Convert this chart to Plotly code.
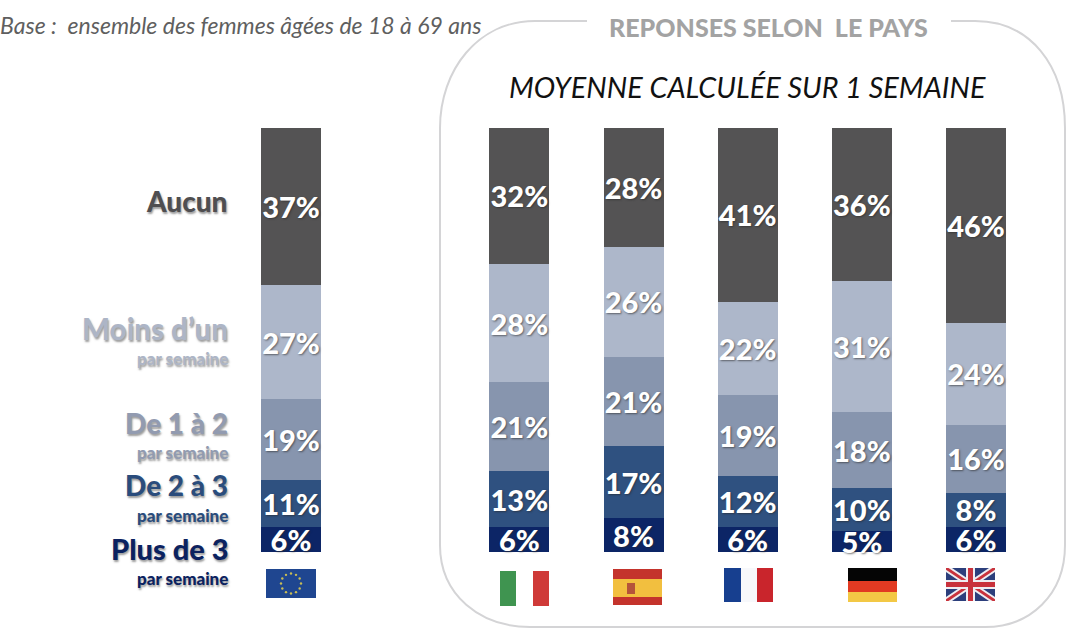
import math
import plotly.graph_objects as go

W, H = 1080, 639
FONT = "Lato"

categories = ["UE", " ", "Italie", "Espagne", "France", "Allemagne", "Royaume-Uni"]
plus_de_3 = [6, None, 6, 8, 6, 5, 6]
de_2_a_3 = [11, None, 13, 17, 12, 10, 8]
de_1_a_2 = [19, None, 21, 21, 19, 18, 16]
moins_dun = [27, None, 28, 26, 22, 31, 24]
aucun = [37, None, 32, 28, 41, 36, 46]

series_names = ["Plus de 3", "De 2 à 3", "De 1 à 2", "Moins d’un", "Aucun"]
series_values = [plus_de_3, de_2_a_3, de_1_a_2, moins_dun, aucun]
series_colors = ["#0c2566", "#2f5180", "#8795ae", "#adb7ca", "#545354"]

base_text = "Base :  ensemble des femmes âgées de 18 à 69 ans"
panel_title = "REPONSES SELON  LE PAYS"
panel_subtitle = "MOYENNE CALCULÉE SUR 1 SEMAINE"
sub_label = "par semaine"


def X(px):
    return px / W


def Y(py):
    return 1 - py / H


def path(points, close=True):
    s = "M " + " L ".join(f"{X(x):.5f},{Y(y):.5f}" for x, y in points)
    return s + (" Z" if close else "")


shapes = []


def rect(x0, y0, x1, y1, color):
    shapes.append(dict(type="rect", xref="paper", yref="paper", x0=X(x0), x1=X(x1),
                       y0=Y(y1), y1=Y(y0), fillcolor=color, line_width=0, layer="above"))


def poly(points, color):
    shapes.append(dict(type="path", xref="paper", yref="paper", path=path(points),
                       fillcolor=color, line_width=0, layer="above"))


# rounded panel, open at the top around its title
def c(*pts):
    return " ".join(f"{X(x):.5f},{Y(y):.5f}" for x, y in pts)


panel = (
    f"M {c((587, 21))} L {c((535, 21))} C {c((478, 21), (440, 70), (440, 128))} "
    f"L {c((440, 545))} C {c((440, 595), (480, 627), (530, 627))} "
    f"L {c((985, 627))} C {c((1030, 627), (1065, 595), (1065, 545))} "
    f"L {c((1065, 128))} C {c((1065, 65), (1030, 21), (975, 21))} L {c((951, 21))}"
)
shapes.append(dict(type="path", xref="paper", yref="paper", path=panel,
                   line=dict(color="#d4d4d6", width=2), layer="below"))

# EU flag
rect(266, 569, 316, 598, "#1f4690")
for i in range(12):
    a = i * math.pi / 6
    cx, cy = 291 + 10 * math.cos(a), 583.5 + 10 * math.sin(a)
    shapes.append(dict(type="circle", xref="paper", yref="paper", x0=X(cx - 1.2), x1=X(cx + 1.2),
                       y0=Y(cy + 1.2), y1=Y(cy - 1.2), fillcolor="#c9bd55", line_width=0, layer="above"))
# Italy
rect(500, 571, 516, 606, "#3f9450")
rect(533, 571, 549, 606, "#cf3a38")
# Spain
rect(613, 569, 662, 605, "#c4332c")
rect(613, 579, 662, 597, "#f2bf3f")
rect(627, 583, 635, 594, "#b5533a")
# France
rect(724, 568, 741, 602, "#173f8f")
rect(741, 568, 757, 602, "#f7f8fb")
rect(757, 568, 773, 602, "#c9252c")
# Germany
rect(848, 568, 897, 581, "#050505")
rect(848, 581, 897, 592, "#e23a22")
rect(848, 592, 897, 602, "#f3c845")
# United Kingdom
ux0, ux1, uy0, uy1 = 946, 995, 568, 601
rect(ux0, uy0, ux1, uy1, "#2c3f7c")
for d, col in ((6, "#eeeef2"), (2.5, "#c8323c")):
    e = d * (uy1 - uy0) / (ux1 - ux0)
    poly([(ux0, uy0), (ux0 + d, uy0), (ux1, uy1 - e), (ux1, uy1), (ux1 - d, uy1), (ux0, uy0 + e)], col)
    poly([(ux1, uy0), (ux1 - d, uy0), (ux0, uy1 - e), (ux0, uy1), (ux0 + d, uy1), (ux1, uy0 + e)], col)
rect(966, uy0, 975, uy1, "#eeeef2")
rect(ux0, 580, ux1, 589, "#eeeef2")
rect(968, uy0, 973, uy1, "#c8323c")
rect(ux0, 582, ux1, 587, "#c8323c")

fig = go.Figure()
for name, values, color in zip(series_names, series_values, series_colors):
    fig.add_trace(go.Bar(
        x=categories, y=values, name=name, marker=dict(color=color, line_width=0),
        text=[f"{v}%" if v is not None else "" for v in values],
        textposition="inside", insidetextanchor="middle", constraintext="none",
        textangle=0, cliponaxis=False,
        textfont=dict(family=FONT, size=29, color="white", weight=900,
                      shadow="1px 1px 2px rgba(40,40,40,0.6)"),
    ))

annotations = []


def label(text, px, py, size, color, anchor="right", bold=True, italic=False, shadow=True):
    annotations.append(dict(
        text=text, xref="paper", yref="paper", x=X(px), y=Y(py), xanchor=anchor, yanchor="middle",
        showarrow=False,
        font=dict(family=FONT, size=size, color=color, weight=900 if bold else 400,
                  style="italic" if italic else "normal",
                  shadow="1px 2px 2px rgba(90,90,90,0.6)" if shadow else "none"),
    ))


label_rows = [
    ("Aucun", 201, None, "#4f4e50", 28),
    ("Moins d’un", 328, 358, "#adb5c6", 29.5),
    ("De 1 à 2", 423, 452, "#929bb0", 28),
    ("De 2 à 3", 485, 515, "#2a4c7c", 28),
    ("Plus de 3", 548, 578, "#0b2260", 29),
]
for text, y1, y2, col, size in label_rows:
    label(text, 230, y1, size, col)
    if y2:
        label(sub_label, 230, y2, 17, col)

label(base_text, -2, 25, 23, "#5f5f5f", anchor="left", bold=False, italic=True, shadow=False)
label(panel_title, 768, 27, 25, "#a3a3a3", anchor="center", shadow=False)
label(panel_subtitle, 747, 87, 28.8, "#111111", anchor="center", bold=False, italic=True, shadow=False)

# px = 291 + 114.17 * slot ; value 0 at py 552, value 100 at py 128
fig.update_layout(
    width=W, height=H, margin=dict(l=0, r=0, t=0, b=0), autosize=False,
    barmode="stack", bargap=1 - 60 / 114.17, showlegend=False,
    paper_bgcolor="white", plot_bgcolor="white",
    shapes=shapes, annotations=annotations,
    xaxis=dict(type="category", categoryorder="array", categoryarray=categories,
               range=[-291 / 114.17, (W - 291) / 114.17], visible=False, fixedrange=True),
    yaxis=dict(range=[-(H - 552) / 4.24, 100 + 128 / 4.24], visible=False, fixedrange=True),
)

fig.write_html("out.html", config=dict(displayModeBar=False),
               post_script="document.body.style.margin='0';")
